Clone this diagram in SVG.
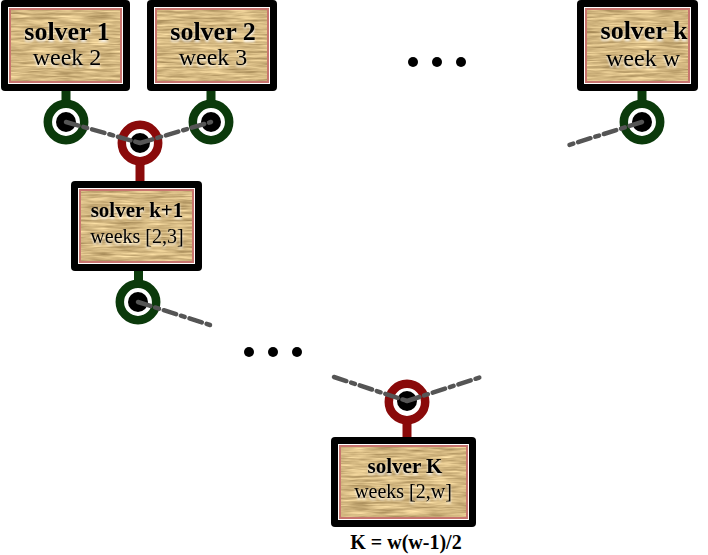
<svg xmlns="http://www.w3.org/2000/svg" width="708" height="555" viewBox="0 0 708 555">
<defs>
<filter id="wood" x="0" y="0" width="1" height="1" color-interpolation-filters="sRGB">
<feTurbulence type="fractalNoise" baseFrequency="0.035 0.45" numOctaves="3" seed="4" result="n"/>
<feColorMatrix in="n" type="matrix" values="0.5 0 0 0 0.58  0.5 0 0 0 0.47  0.45 0 0 0 0.28  0 0 0 0 1" result="c"/>
<feComposite in="c" in2="SourceAlpha" operator="in"/>
</filter>
<filter id="emb" x="-10%" y="-20%" width="120%" height="150%" color-interpolation-filters="sRGB">
<feGaussianBlur in="SourceAlpha" stdDeviation="0.8" result="b"/>
<feOffset in="b" dx="0" dy="2" result="o"/>
<feFlood flood-color="#ffffff" flood-opacity="0.9"/>
<feComposite in2="o" operator="in" result="s"/>
<feMerge><feMergeNode in="s"/><feMergeNode in="SourceGraphic"/></feMerge>
</filter>
</defs>
<style>
.frame{fill:#000}
.gap{fill:#fff}
.woodbg{fill:#d9bb88;filter:url(#wood)}
.trim{fill:none;stroke:#c8746e;stroke-width:2}
.t{font-family:"Liberation Serif",serif;text-anchor:middle;fill:#000;filter:url(#emb)}
.b{font-weight:bold}
.g{stroke:#0b3a0b}
.r{stroke:#8a0a0a}
.stem{stroke-width:9}
.ring{fill:#fff;stroke-width:8.5}
.dot{fill:#000}
.link{fill:none;stroke:#555;stroke-width:4.5;stroke-dasharray:13 5 4 5;stroke-linecap:round}
.ell{fill:#000}
.f{font-family:"Liberation Serif",serif;font-weight:bold;font-size:20px;text-anchor:middle;fill:#000}
</style>

<g id="solver1">
<line class="stem g" x1="66" y1="88" x2="66" y2="104"/>
<circle class="ring g" cx="66" cy="122" r="18.2"/>
<circle class="dot" cx="66" cy="122" r="10"/>
<rect class="frame" x="1" y="0" width="129" height="91" rx="4"/>
<rect class="gap" x="8" y="7" width="115" height="77"/>
<rect class="woodbg" x="10" y="9" width="111" height="73"/>
<rect class="trim" x="10" y="9" width="111" height="73"/>
<text class="t b" x="67" y="40" font-size="26">solver 1</text>
<text class="t" x="67" y="65" font-size="24">week 2</text>
</g>

<g id="solver2">
<line class="stem g" x1="211" y1="88" x2="211" y2="104"/>
<circle class="ring g" cx="211" cy="122" r="18.2"/>
<circle class="dot" cx="211" cy="122" r="10"/>
<rect class="frame" x="147" y="0" width="130" height="91" rx="4"/>
<rect class="gap" x="154" y="7" width="116" height="77"/>
<rect class="woodbg" x="156" y="9" width="112" height="73"/>
<rect class="trim" x="156" y="9" width="112" height="73"/>
<text class="t b" x="213" y="40" font-size="26">solver 2</text>
<text class="t" x="213" y="65" font-size="24">week 3</text>
</g>

<g id="solverk">
<line class="stem g" x1="642" y1="88" x2="642" y2="104"/>
<circle class="ring g" cx="642" cy="122" r="18.2"/>
<circle class="dot" cx="642" cy="122" r="10"/>
<rect class="frame" x="577" y="0" width="121" height="91" rx="4"/>
<rect class="gap" x="584" y="7" width="107" height="77"/>
<rect class="woodbg" x="586" y="9" width="103" height="73"/>
<rect class="trim" x="586" y="9" width="103" height="73"/>
<text class="t b" x="644" y="39" font-size="26">solver k</text>
<text class="t" x="643" y="66" font-size="24">week w</text>
</g>

<g id="solverk1">
<line class="stem r" x1="140" y1="160" x2="140" y2="184"/>
<circle class="ring r" cx="140" cy="143" r="18.2"/>
<circle class="dot" cx="140" cy="143" r="10"/>
<line class="stem g" x1="138.5" y1="268" x2="138.5" y2="286"/>
<circle class="ring g" cx="138" cy="302" r="18.2"/>
<circle class="dot" cx="138" cy="302" r="10"/>
<rect class="frame" x="71" y="181" width="131" height="90" rx="4"/>
<rect class="gap" x="78" y="188" width="117" height="76"/>
<rect class="woodbg" x="80" y="190" width="113" height="72"/>
<rect class="trim" x="80" y="190" width="113" height="72"/>
<text class="t b" x="137" y="217" font-size="21">solver k+1</text>
<text class="t" x="137" y="243" font-size="20">weeks [2,3]</text>
</g>

<g id="solverK">
<line class="stem r" x1="407" y1="418" x2="407" y2="440"/>
<circle class="ring r" cx="407" cy="402" r="18.2"/>
<circle class="dot" cx="407" cy="401" r="10"/>
<rect class="frame" x="331" y="437" width="145" height="90" rx="4"/>
<rect class="gap" x="338" y="444" width="131" height="76"/>
<rect class="woodbg" x="340" y="446" width="127" height="72"/>
<rect class="trim" x="340" y="446" width="127" height="72"/>
<text class="t b" x="405" y="473" font-size="21">solver K</text>
<text class="t" x="403" y="498" font-size="20">weeks [2,w]</text>
</g>

<g id="connectors">
<line class="link" x1="66" y1="122" x2="140" y2="143"/>
<line class="link" x1="140" y1="143" x2="211" y2="122"/>
<line class="link" x1="642" y1="122" x2="569" y2="145"/>
<line class="link" x1="138" y1="302" x2="210" y2="325"/>
<line class="link" x1="334" y1="377" x2="407" y2="401"/>
<line class="link" x1="407" y1="401" x2="481" y2="377"/>
</g>

<g id="ellipsis-top">
<circle class="ell" cx="413" cy="62" r="5"/>
<circle class="ell" cx="437" cy="62" r="5"/>
<circle class="ell" cx="461" cy="62" r="5"/>
</g>
<g id="ellipsis-mid">
<circle class="ell" cx="249" cy="352" r="5"/>
<circle class="ell" cx="273" cy="352" r="5"/>
<circle class="ell" cx="297" cy="352" r="5"/>
</g>

<text id="formula" class="f" x="406" y="549">K = w(w-1)/2</text>
</svg>
